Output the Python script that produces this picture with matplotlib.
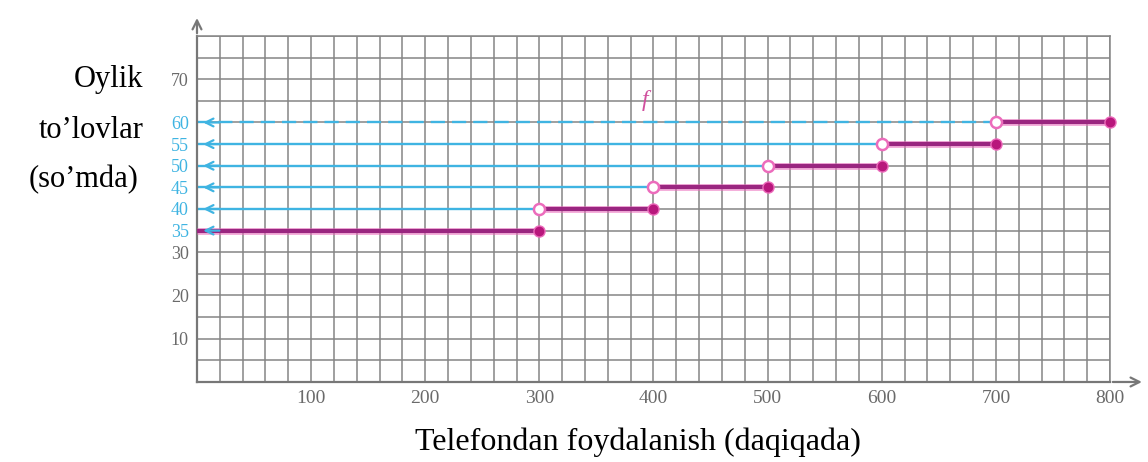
import matplotlib.pyplot as plt
from matplotlib.ticker import MultipleLocator

plt.rcParams['font.family'] = ['Liberation Serif', 'DejaVu Serif']

# tariff: minutes used -> monthly fee
breaks = [0, 300, 400, 500, 600, 700, 800]
fees = [35, 40, 45, 50, 55, 60]

x_ticks = [100, 200, 300, 400, 500, 600, 700, 800]
y_ticks_gray = [10, 20, 30, 70]
y_ticks_blue = [35, 40, 45, 50, 55, 60]

step_col = '#9a2680'
glow_col = '#ec6cbc'
dot_col = '#b8177c'
blue = '#3fb4e2'
grid_col = '#858585'
axis_col = '#777777'
tick_gray = '#6a6a6a'

fig = plt.figure(figsize=(11.48, 4.62), dpi=100)
ax = fig.add_axes([0.1716, 0.1732, 0.7953, 0.7489])
ax.set_xlim(0, 800)
ax.set_ylim(0, 80)

# square grid: 20 minutes by 5 so'm
ax.xaxis.set_minor_locator(MultipleLocator(20))
ax.yaxis.set_minor_locator(MultipleLocator(5))
ax.grid(which='both', color=grid_col, lw=1.1, zorder=0)
ax.set_axisbelow(True)
for s in ax.spines.values():
    s.set_color(grid_col)
    s.set_linewidth(1.1)
ax.spines['left'].set_color(axis_col)
ax.spines['bottom'].set_color(axis_col)
ax.spines['left'].set_linewidth(1.6)
ax.spines['bottom'].set_linewidth(1.6)

ax.set_xticks(x_ticks)
ax.set_xticklabels([str(v) for v in x_ticks], color=tick_gray, fontsize=14)
y_all = sorted(y_ticks_gray + y_ticks_blue)
ax.set_yticks(y_all)
ax.set_yticklabels([str(v) for v in y_all], fontsize=13)
for lab, v in zip(ax.get_yticklabels(), y_all):
    lab.set_color(blue if v in y_ticks_blue else tick_gray)
ax.tick_params(which='both', length=0, pad=6)

# blue guide lines from each open end back to the fee axis
for i in range(1, len(fees)):
    x_open = breaks[i]
    ls = (0, (6, 3)) if i == len(fees) - 1 else '-'
    ax.plot([0, x_open], [fees[i], fees[i]], color=blue, lw=1.7, ls=ls, zorder=2)
for i in range(len(fees)):
    ax.annotate('', xy=(3, fees[i]), xytext=(22, fees[i]),
                arrowprops=dict(arrowstyle='->', color=blue, lw=1.6,
                                mutation_scale=14), zorder=4)

# step function pieces
for i, fee in enumerate(fees):
    x0, x1 = breaks[i], breaks[i + 1]
    ax.plot([x0, x1], [fee, fee], color=glow_col, lw=5, alpha=0.55,
            solid_capstyle='butt', zorder=3)
    ax.plot([x0, x1], [fee, fee], color=step_col, lw=3,
            solid_capstyle='butt', zorder=3)
    ax.plot(x1, fee, 'o', ms=8, color=dot_col, mec=glow_col, mew=1,
            zorder=5, clip_on=False)
    if i > 0:
        ax.plot(x0, fee, 'o', ms=8, mfc='white', mec=glow_col, mew=1.8,
                zorder=5, clip_on=False)

ax.text(393, 65, 'f', color='#d0509e', fontsize=17, style='italic',
        ha='center', va='center')

# axis arrows
ax.annotate('', xy=(0, 1.06), xytext=(0, 1.0), xycoords='axes fraction',
            arrowprops=dict(arrowstyle='->', color=axis_col, lw=1.6,
                            mutation_scale=16), annotation_clip=False)
ax.annotate('', xy=(1.038, 0), xytext=(1.0, 0), xycoords='axes fraction',
            arrowprops=dict(arrowstyle='->', color=axis_col, lw=1.6,
                            mutation_scale=16), annotation_clip=False)

fig.text(143 / 1148, 1 - 80 / 462, 'Oylik', fontsize=22, ha='right', va='center')
fig.text(144 / 1148, 1 - 131 / 462, 'to\u2019lovlar', fontsize=22, ha='right', va='center')
fig.text(138 / 1148, 1 - 180 / 462, '(so\u2019mda)', fontsize=22, ha='right', va='center')
fig.text(638 / 1148, 1 - 442 / 462, 'Telefondan foydalanish (daqiqada)',
         fontsize=23, ha='center', va='center')

fig.savefig('out.png', dpi=100)
